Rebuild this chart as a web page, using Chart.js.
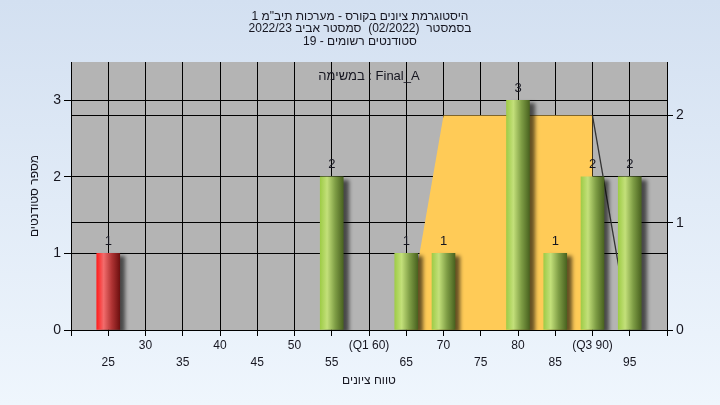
<!DOCTYPE html>
<html lang="he">
<head>
<meta charset="utf-8">
<script src="https://cdn.jsdelivr.net/npm/chart.js@4"></script>
<style>
  html, body { margin: 0; padding: 0; }
  body { width: 720px; height: 405px; overflow: hidden; background: linear-gradient(to bottom, #d3e0f1, #eff6fd); }
  canvas { display: block; }
</style>
</head>
<body>
<canvas id="hist" width="720" height="405" dir="rtl"></canvas>
<script>
// histogram data
const grades = [25, 55, 65, 70, 80, 85, 90, 95];
const counts = [1, 2, 1, 1, 3, 1, 2, 2];
const failGrades = [25];

// quartile band (right axis)
const bandX = [65, 70, 90, 90];
const bandY = [0, 2, 2, 0];
const tailX = [90, 95];
const tailY = [2, 0];

// x tick labels, two rows
const upperTicks = [30, 40, 50, 60, 70, 80, 90];
const upperLabels = ['30', '40', '50', '(Q1 60)', '70', '80', '(Q3 90)'];
const lowerTicks = [25, 35, 45, 55, 65, 75, 85, 95];
const lowerLabels = ['25', '35', '45', '55', '65', '75', '85', '95'];

const titleLines = [
  'היסטוגרמת ציונים בקורס - מערכות תיב"מ 1',
  'בסמסטר  (02/2022)  סמסטר אביב 2022/23',
  'סטודנטים רשומים - 19'
];
const seriesName = 'במשימה : Final_A';
const xTitle = 'טווח ציונים';
const yTitle = 'מספר סטודנטים';

const FONT = 'Liberation Sans, Arial, sans-serif';
const INK = '#161620';

function barFill(c) {
  const chart = c.chart;
  const fail = c.raw && failGrades.includes(c.raw.x);
  const fallback = fail ? '#d02020' : '#8db43c';
  if (!chart.chartArea || !c.raw) return fallback;
  const px = chart.scales.x.getPixelForValue(c.raw.x);
  if (!isFinite(px)) return fallback;
  const g = chart.ctx.createLinearGradient(px - 11.5, 0, px + 11.5, 0);
  if (fail) {
    g.addColorStop(0, '#ff1e1e');
    g.addColorStop(0.3, '#f26c6c');
    g.addColorStop(0.65, '#b03434');
    g.addColorStop(1, '#6e1010');
  } else {
    g.addColorStop(0, '#9fcc48');
    g.addColorStop(0.3, '#c3e07a');
    g.addColorStop(0.65, '#7e9d45');
    g.addColorStop(1, '#4a6320');
  }
  return g;
}

const plotBg = {
  id: 'plotBg',
  beforeDraw(chart) {
    const { ctx, chartArea: a } = chart;
    ctx.save();
    ctx.fillStyle = '#b4b4b4';
    ctx.fillRect(a.left, a.top, a.right - a.left, a.bottom - a.top);
    ctx.restore();
  }
};

const barShadow = {
  id: 'barShadow',
  beforeDatasetDraw(chart, args) {
    if (chart.data.datasets[args.index].type !== 'bar') return;
    const ctx = chart.ctx;
    ctx.save();
    ctx.shadowColor = 'rgba(0,0,0,0.6)';
    ctx.shadowOffsetX = 5;
    ctx.shadowOffsetY = 3;
    ctx.shadowBlur = 4;
  },
  afterDatasetDraw(chart, args) {
    if (chart.data.datasets[args.index].type !== 'bar') return;
    chart.ctx.restore();
  }
};

const textMarks = {
  id: 'textMarks',
  afterDatasetsDraw(chart) {
    const { ctx, chartArea: a } = chart;
    ctx.save();
    ctx.direction = 'ltr';
    ctx.fillStyle = INK;
    ctx.textAlign = 'center';
    ctx.textBaseline = 'middle';
    ctx.font = '13px ' + FONT;
    ctx.fillText(seriesName, (a.left + a.right) / 2, a.top + 14);
    chart.data.datasets.forEach((ds, di) => {
      if (ds.type !== 'bar') return;
      chart.getDatasetMeta(di).data.forEach((el, i) => {
        ctx.fillText(String(ds.data[i].y), el.x, el.y - 12);
      });
    });
    ctx.restore();
  }
};

function pin(prop, size) {
  return s => {
    s[prop] = size;
    s.paddingTop = s.paddingBottom = s.paddingLeft = s.paddingRight = 0;
  };
}

new Chart(document.getElementById('hist'), {
  type: 'bar',
  data: {
    datasets: [
      {
        type: 'bar',
        data: grades.map((g, i) => ({ x: g, y: counts[i] })),
        backgroundColor: barFill,
        barThickness: 23,
        yAxisID: 'y',
        order: 0
      },
      {
        type: 'line',
        data: tailX.map((x, i) => ({ x, y: tailY[i] })),
        borderColor: '#333333',
        borderWidth: 1.3,
        pointRadius: 0,
        fill: false,
        yAxisID: 'y2',
        order: 1
      },
      {
        type: 'line',
        data: bandX.map((x, i) => ({ x, y: bandY[i] })),
        backgroundColor: '#ffcb57',
        borderWidth: 0,
        pointRadius: 0,
        fill: 'origin',
        yAxisID: 'y2',
        order: 2
      }
    ]
  },
  options: {
    responsive: false,
    animation: false,
    layout: { padding: 0 },
    plugins: {
      legend: { display: false },
      tooltip: { enabled: false },
      title: {
        display: true,
        text: titleLines,
        color: INK,
        font: { family: FONT, size: 12, weight: 'normal', lineHeight: '12.5px' },
        padding: { top: 10.4, bottom: 14.1 }
      }
    },
    scales: {
      x: {
        type: 'linear',
        min: 20, max: 100,
        offset: false,
        afterFit: pin('height', 75),
        grid: { color: '#000', lineWidth: 1, offset: false, tickLength: 6, tickColor: '#000' },
        border: { color: '#000' },
        ticks: {
          stepSize: 5, autoSkip: false, maxRotation: 0, padding: 1,
          color: INK,
          font: { family: FONT, size: 12, lineHeight: '17px' },
          callback: v => {
            let i = upperTicks.indexOf(v);
            if (i >= 0) return [upperLabels[i], ''];
            i = lowerTicks.indexOf(v);
            if (i >= 0) return ['', lowerLabels[i]];
            return '';
          }
        },
        title: {
          display: true, text: xTitle, color: INK,
          font: { family: FONT, size: 12 },
          padding: { top: 0, bottom: 17.3 }
        }
      },
      y: {
        position: 'left',
        min: 0, max: 3.5,
        afterFit: pin('width', 71),
        grid: { color: '#000', lineWidth: 1, tickLength: 7 },
        border: { color: '#000' },
        ticks: { stepSize: 1, includeBounds: false, padding: 3, color: INK, font: { family: FONT, size: 14 } },
        title: {
          display: true, text: yTitle, color: INK,
          font: { family: FONT, size: 12 },
          padding: { top: 27.8, bottom: 0 }
        }
      },
      y2: {
        position: 'right',
        min: 0, max: 2.5,
        afterFit: pin('width', 53),
        grid: { color: '#000', lineWidth: 1, tickLength: 6 },
        border: { color: '#000' },
        ticks: { stepSize: 1, includeBounds: false, padding: 3, color: INK, font: { family: FONT, size: 14 } }
      }
    }
  },
  plugins: [plotBg, barShadow, textMarks]
});
</script>
</body>
</html>
